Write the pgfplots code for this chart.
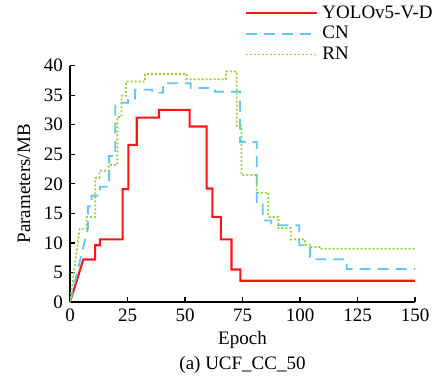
\documentclass[border=0pt]{standalone}
\usepackage{fontspec}
\setmainfont{Liberation Serif}
\newfontfamily\tnr{Liberation Serif}
\usepackage{pgfplots}
\pgfplotsset{compat=1.18}
\definecolor{cnblue}{RGB}{95,200,250}
\definecolor{rngreen}{RGB}{150,210,60}
\definecolor{yred}{RGB}{255,20,20}
\begin{document}
\begin{tikzpicture}[font=\tnr\fontsize{9.5}{12.5}\selectfont]
\path[use as bounding box] (-35pt,-37pt) rectangle (186.5pt,151pt);
\begin{axis}[
  scale only axis, width=172.5pt, height=118.2pt,
  xmin=0, xmax=150, ymin=0, ymax=40,
  axis x line*=bottom, axis y line*=left,
  axis line style={line width=0.7pt, black},
  xtick={0,25,...,150}, ytick={0,5,...,40},
  tick align=inside, major tick length=2.5pt,
  tick style={line width=0.6pt, black},
  /pgf/number format/assume math mode=true,
  ticklabel style={font=\tnr\fontsize{9.5}{11}\selectfont},
  label style={font=\tnr\fontsize{9.5}{12.5}\selectfont},
  xlabel={Epoch\\(a) UCF\_CC\_50}, xlabel style={align=center, yshift=2pt},
  ylabel={Parameters/MB},
  legend cell align=left,
  legend style={at={(1,1)}, anchor=south east, xshift=14pt, yshift=-2.5pt,
    draw=none, fill=none, row sep=-1.5pt,
    font=\tnr\fontsize{9.5}{11}\selectfont},
  legend image code/.code={\draw[#1] (-5.5pt,0pt) -- (30pt,0pt);},
]
\addplot[yred, line width=1.05pt] coordinates {
(0,0) (5.8,7.2) (10.9,7.2) (10.9,9.6) (13,9.6) (13,10.6) (22.9,10.6) (22.9,19.1)
(25.4,19.1) (25.4,26.6) (29,26.6) (29,31.2) (38.7,31.2) (38.7,32.5) (52,32.5)
(52,29.7) (59.4,29.7) (59.4,19.2) (61.9,19.2) (61.9,14.4) (65.6,14.4) (65.6,10.6)
(70.2,10.6) (70.2,5.5) (74.1,5.5) (74.1,3.6) (150,3.6)};
\addlegendentry{YOLOv5-V-D}
\addplot[cnblue, line width=0.9pt, dash pattern=on 5.5pt off 3.5pt] coordinates {
(0,0) (7.8,12.5) (7.8,16.2) (9.4,16.2) (9.4,18.0) (13,18.0) (13,19.5) (17,19.5)
(17,24.7) (19.7,24.7) (19.7,33.7) (25.2,33.7) (25.2,34.4) (28.3,34.4) (28.3,35.9)
(35.8,35.9) (35.8,35.4) (40.4,35.4) (40.4,37.0) (52.5,37.0) (52.5,36.2) (63,36.2)
(63,35.6) (73.9,35.6) (73.9,27.1) (81.2,27.1) (81.2,16.5) (83.8,16.5) (83.8,13.8)
(87.5,13.8) (87.5,13.0) (99.7,13.0) (99.7,9.6) (104.3,9.6) (104.3,7.25)
(120.3,7.25) (120.3,5.6) (150,5.6)};
\addlegendentry{CN}
\addplot[rngreen, line width=0.9pt, dash pattern=on 1pt off 1pt] coordinates {
(0,0) (4.2,12.4) (7.2,12.4) (7.2,14.4) (11,14.4) (11,21.0) (12.8,21.0) (12.8,22.2)
(16.8,22.2) (16.8,23.2) (20.6,23.2) (20.6,31.3) (22.4,31.3) (22.4,34.9) (24.3,34.9)
(24.3,37.3) (32.6,37.3) (32.6,38.6) (50.7,38.6) (50.7,37.7) (67.8,37.7) (67.8,39.0)
(72.5,39.0) (72.5,29.8) (74.6,29.8) (74.6,21.5) (81.2,21.5) (81.2,18.5) (86.2,18.5)
(86.2,14.4) (90.6,14.4) (90.6,12.5) (96,12.5) (96,10.6) (102.2,10.6) (102.2,9.7)
(104.3,9.7) (104.3,9.3) (109.4,9.3) (109.4,9.0) (150,9.0)};
\addlegendentry{RN}
\end{axis}
\end{tikzpicture}
\end{document}
